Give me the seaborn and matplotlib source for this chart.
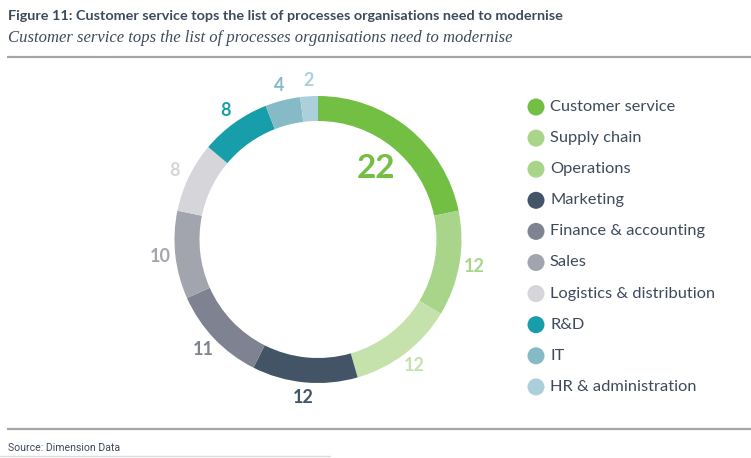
import matplotlib
matplotlib.use("Agg")
import matplotlib.pyplot as plt
import seaborn as sns
import numpy as np

sns.set_theme(style="white")
plt.rcParams['font.family'] = ['Lato', 'DejaVu Sans']

# ---- data ----
categories = ["Customer service", "Supply chain", "Operations", "Marketing",
              "Finance & accounting", "Sales", "Logistics & distribution",
              "R&D", "IT", "HR & administration"]
values = [22, 12, 12, 12, 11, 10, 8, 8, 4, 2]
colors = ["#72bf44", "#a9d58a", "#c5e2ad", "#425466", "#7f8290",
          "#a3a5ae", "#d5d5da", "#179eaa", "#86bac6", "#acd0db"]
legend_colors = ["#72bf44", "#a9d58a", "#a9d58a", "#425466", "#7f8290",
                 "#a3a5ae", "#d5d5da", "#179eaa", "#86bac6", "#acd0db"]
title = "Figure 11: Customer service tops the list of processes organisations need to modernise"
subtitle = "Customer service tops the list of processes organisations need to modernise"
source = "Source: Dimension Data"

W, H = 751, 458
fig = plt.figure(figsize=(W / 100, H / 100), dpi=100)
fig.patch.set_facecolor("white")

# overlay axes in pixel coordinates for layout elements
lax = fig.add_axes([0, 0, 1, 1])
lax.set_xlim(0, W)
lax.set_ylim(H, 0)
lax.axis("off")

text_col = "#3d4a5c"
lax.text(8, 16, title, fontsize=10.4, fontweight="bold", color=text_col, va="center", ha="left")
lax.text(8, 38, subtitle, fontsize=12, style="italic", color=text_col, va="center", ha="left",
         family=["Liberation Serif", "DejaVu Serif"])
lax.plot([7, W], [57, 57], color="#a3a6aa", lw=1.6, solid_capstyle="butt")
lax.plot([7, W], [429, 429], color="#a3a6aa", lw=1.6, solid_capstyle="butt")
lax.plot([0, 330], [456, 456], color="#dddddd", lw=1.0)
lax.text(8, 448, source, fontsize=7.6, color=text_col, va="center", ha="left",
         family=["Roboto", "DejaVu Sans"])

# legend
for i, (lab, col) in enumerate(zip(categories, legend_colors)):
    y = 107 + i * 31.1
    lax.scatter([536], [y], s=150, color=col, edgecolor="none")
    lax.text(550, y, lab, fontsize=11.8, color=text_col, va="center", ha="left")

# donut
cx, cy, R = 318, 239.5, 143.5
ax = fig.add_axes([(cx - R) / W, (H - cy - R) / H, 2 * R / W, 2 * R / H])
wedges, _ = ax.pie(values, colors=colors, startangle=90, counterclock=False,
                   radius=1.0, wedgeprops=dict(width=25 / R, edgecolor="none"))
ax.set_xlim(-1, 1)
ax.set_ylim(-1, 1)
ax.set_aspect("equal")
ax.axis("off")

total = sum(values)
cum = np.cumsum([0] + values)
for i, v in enumerate(values):
    mid = (cum[i] + v / 2) / total * 2 * np.pi
    if i == 0:
        r = 92 / R
        ax.text(r * np.sin(mid), r * np.cos(mid), str(v), fontsize=24, fontweight="bold",
                color=colors[i], ha="center", va="center", clip_on=False)
    else:
        r = 159 / R
        ax.text(r * np.sin(mid), r * np.cos(mid), str(v), fontsize=13, fontweight="bold",
                color=colors[i], ha="center", va="center", clip_on=False)

fig.savefig("out.png", dpi=100, facecolor="white")
